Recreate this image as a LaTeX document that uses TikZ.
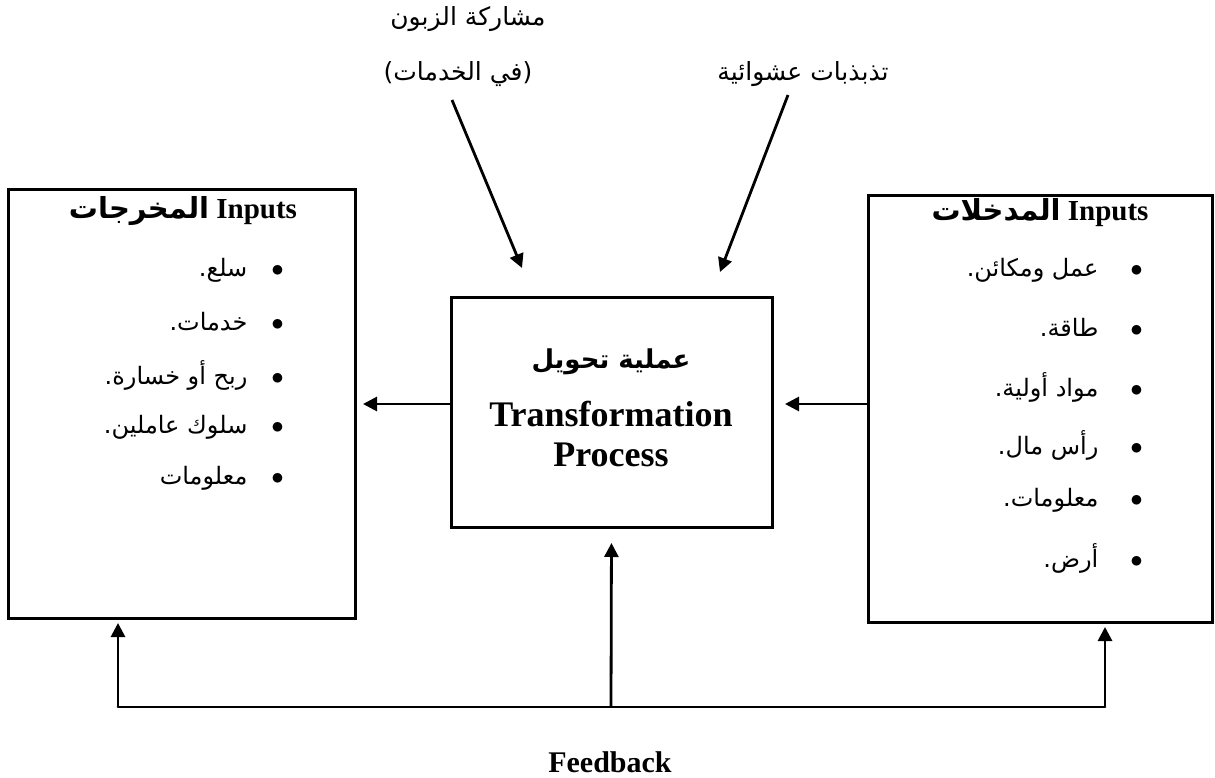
\documentclass[tikz,border=0pt]{standalone}
\usepackage{fontspec}
\setmainfont{Liberation Serif}
\newfontfamily\arabicfont[Script=Arabic]{DejaVu Sans}
\TeXXeTstate=1
\usetikzlibrary{arrows.meta}
\begin{document}
\begin{tikzpicture}[x=1pt,y=-1pt,
  box/.style={draw,line width=3pt,inner sep=0pt,outer sep=0pt},
  arr/.style={line width=2.8pt,-{Triangle[length=14pt,width=14pt]}},
  ln/.style={line width=2.8pt},
  ar/.style={font=\arabicfont\fontsize{24}{28}\selectfont,inner sep=0pt},
  tl/.style={font=\arabicfont\fontsize{25}{29}\selectfont,inner sep=0pt},
  arb/.style={font=\arabicfont\bfseries\fontsize{26}{30}\selectfont,inner sep=0pt},
  hd/.style={font=\bfseries\fontsize{29}{33}\selectfont,inner sep=0pt},
  big/.style={font=\bfseries\fontsize{36}{40}\selectfont,inner sep=0pt},
  item/.style={ar,anchor=east}]
\useasboundingbox (0,0) rectangle (1215,778);
% boxes
\node[box,anchor=north west,minimum width=347pt,minimum height=428pt] (L) at (8,190) {};
\node[box,anchor=north west,minimum width=344pt,minimum height=426pt] (R) at (868,196) {};
\node[box,anchor=north west,minimum width=321pt,minimum height=230pt] (M) at (451,297) {};
% left box text
\node[hd] (Lh) at (183,211) {{\arabicfont\beginR المخرجات\endR} Inputs};
\node[item] (L1) at (284,270) {\beginR سلع.\endR\hspace{24pt}$\bullet$};
\node[item] (L2) at (284,322) {\beginR خدمات.\endR\hspace{24pt}$\bullet$};
\node[item] (L3) at (284,375) {\beginR ربح أو خسارة.\endR\hspace{24pt}$\bullet$};
\node[item] (L4) at (284,427) {\beginR سلوك عاملين.\endR\hspace{24pt}$\bullet$};
\node[item] (L5) at (284,478) {\beginR معلومات\endR\hspace{24pt}$\bullet$};
% right box text
\node[hd] (Rh) at (1040,213) {{\arabicfont\beginR المدخلات\endR} Inputs};
\node[item] (R1) at (1143,270) {\beginR عمل ومكائن.\endR\hspace{32pt}$\bullet$};
\node[item] (R2) at (1143,327) {\beginR طاقة.\endR\hspace{32pt}$\bullet$};
\node[item] (R3) at (1143,387) {\beginR مواد أولية.\endR\hspace{32pt}$\bullet$};
\node[item] (R4) at (1143,445) {\beginR رأس مال.\endR\hspace{32pt}$\bullet$};
\node[item] (R5) at (1143,500) {\beginR معلومات.\endR\hspace{32pt}$\bullet$};
\node[item] (R6) at (1143,558) {\beginR أرض.\endR\hspace{32pt}$\bullet$};
% middle text
\node[arb] (Ma) at (611,362) {\beginR عملية تحويل\endR};
\node[big] (Mb) at (611,414) {Transformation};
\node[big] (Mc) at (611,455) {Process};
% top labels
\node[tl] (Ta) at (468,19) {\beginR مشاركة الزبون\endR};
\node[tl] (Tb) at (458,74) {\beginR (في الخدمات)\endR};
\node[tl] (Tc) at (803,74) {\beginR تذبذبات عشوائية\endR};
% feedback label
\node[font=\bfseries\fontsize{30}{34}\selectfont,inner sep=0pt] (F) at (610,762) {Feedback};
% connectors
\draw[arr] (M.west |- L.east) -- ([xshift=8pt]L.east);
\draw[arr] (R.west |- L.east) -- ([xshift=13pt]M.east |- L.east);
\coordinate (fb) at (611,707);
\coordinate (fl) at (118,707);
\coordinate (fr) at (1105,707);
\draw[ln,line cap=round] (fl) -- (fr);
\draw[arr,shorten >=16pt] (fb) -- (M.south);
\draw[arr,shorten >=5pt] (fl) -- (fl |- L.south);
\draw[arr,shorten >=5pt] (fr) -- (fr |- R.south);
\coordinate (s1) at (452,100);
\coordinate (t1) at (522,268);
\coordinate (s2) at (788,95);
\coordinate (t2) at (720,272);
\draw[arr] (s1) -- (t1);
\draw[arr] (s2) -- (t2);
\end{tikzpicture}
\end{document}
